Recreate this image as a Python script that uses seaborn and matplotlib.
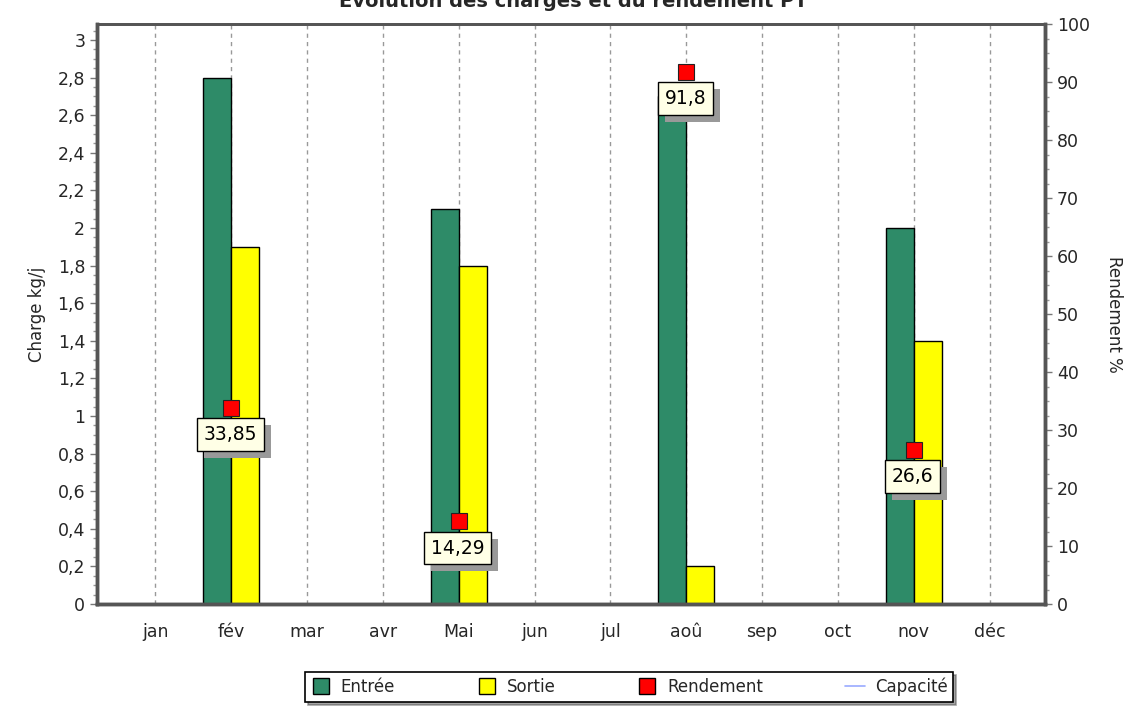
import numpy as np
import pandas as pd
import matplotlib
matplotlib.use("Agg")
import matplotlib.pyplot as plt
import matplotlib.patheffects as pe
import seaborn as sns
from matplotlib.ticker import MultipleLocator, FuncFormatter
from matplotlib.lines import Line2D

months = ["jan", "fév", "mar", "avr", "Mai", "jun", "jul", "aoû", "sep", "oct", "nov", "déc"]
entree = [np.nan, 2.8, np.nan, np.nan, 2.1, np.nan, np.nan, 2.7, np.nan, np.nan, 2.0, np.nan]
sortie = [np.nan, 1.9, np.nan, np.nan, 1.8, np.nan, np.nan, 0.2, np.nan, np.nan, 1.4, np.nan]
rendement = [np.nan, 33.85, np.nan, np.nan, 14.29, np.nan, np.nan, 91.8, np.nan, np.nan, 26.6, np.nan]
capacite = [np.nan] * 12

green = "#2E8B68"
yellow = "#FFFF00"
red = "#FF0000"

sns.set_style("white")
plt.rcParams["font.family"] = ["DejaVu Sans"]

df = pd.DataFrame({"mois": months * 2,
                   "serie": ["Entrée"] * 12 + ["Sortie"] * 12,
                   "charge": entree + sortie})

fig = plt.figure(figsize=(11.4, 7.06), dpi=100)
ax = fig.add_axes([97 / 1140, 102 / 706, 948 / 1140, 580 / 706])

sns.barplot(data=df, x="mois", y="charge", hue="serie", order=months,
            palette={"Entrée": green, "Sortie": yellow}, width=0.74,
            edgecolor="black", linewidth=1, saturation=1, ax=ax, legend=False)

ax.set_xlim(-0.77, 11.73)
ax.set_ylim(0, 3.085)
ax.set_xlabel("")
ax.set_ylabel("Charge kg/j", fontsize=12, labelpad=8)
ax.yaxis.set_major_locator(MultipleLocator(0.2))
ax.yaxis.set_minor_locator(MultipleLocator(0.05))
ax.xaxis.set_minor_locator(MultipleLocator(0.25))
ax.yaxis.set_major_formatter(FuncFormatter(lambda v, p: f"{v:.1f}".rstrip("0").rstrip(".").replace(".", ",")))
ax.tick_params(axis="y", which="major", direction="out", length=5, width=1, color="#777777", labelsize=12.5)
ax.tick_params(axis="y", which="minor", direction="out", length=3, width=1, color="#999999")
ax.tick_params(axis="x", which="major", direction="out", length=6, width=1, color="#777777", labelsize=12.5, pad=8)
ax.tick_params(axis="x", which="minor", direction="out", length=3, width=1, color="#999999")
ax.grid(axis="x", linestyle=(0, (3, 3)), color="#999999", linewidth=1)
ax.set_axisbelow(True)

ax2 = ax.twinx()
ax2.set_ylim(0, 100)
ax2.yaxis.set_major_locator(MultipleLocator(10))
ax2.yaxis.set_minor_locator(MultipleLocator(2.5))
ax2.tick_params(axis="y", which="major", direction="out", length=5, width=1, color="#777777", labelsize=12.5)
ax2.tick_params(axis="y", which="minor", direction="out", length=3, width=1, color="#999999")
ax2.set_ylabel("Rendement %", fontsize=12, rotation=-90, labelpad=24)

idx = np.arange(len(months))
ax2.plot(idx, capacite, color="#99AAFF", linewidth=1.2)
ax2.plot(idx, rendement, linestyle="none", marker="s", markersize=12,
         markerfacecolor=red, markeredgecolor="#222222", markeredgewidth=0.8, zorder=5)

for i, r in zip(idx, rendement):
    if np.isnan(r):
        continue
    lab = f"{r:g}".replace(".", ",")
    t = ax2.annotate(lab, (i, r), xytext=(-1, -27), textcoords="offset pixels",
                     ha="center", va="center", fontsize=13.5, color="black", zorder=6,
                     bbox=dict(boxstyle="square,pad=0.36", fc="#FFFFE6", ec="black", lw=1))
    t.get_bbox_patch().set_path_effects([
        pe.SimplePatchShadow(offset=(5, -5), shadow_rgbFace="#999999", alpha=1.0),
        pe.Normal()])

for a in (ax, ax2):
    for s in a.spines.values():
        s.set_color("#555555")
    a.spines["left"].set_linewidth(2.5)
    a.spines["right"].set_linewidth(2.5)
    a.spines["bottom"].set_linewidth(2.5)
    a.spines["top"].set_linewidth(2)

fig.text(573 / 1140, 1 - 7 / 706, "Evolution des charges et du rendement PT",
         ha="center", va="baseline", fontsize=14, fontweight="bold")

handles = [
    Line2D([], [], linestyle="none", marker="s", markersize=11, markerfacecolor=green, markeredgecolor="black"),
    Line2D([], [], linestyle="none", marker="s", markersize=11, markerfacecolor=yellow, markeredgecolor="black"),
    Line2D([], [], linestyle="none", marker="s", markersize=11, markerfacecolor=red, markeredgecolor="black"),
    Line2D([], [], color="#99AAFF", linewidth=1.2),
]
leg = fig.legend(handles, ["Entrée", "Sortie", "Rendement", "Capacité"], ncol=4,
                 loc="lower center", bbox_to_anchor=(629 / 1140, -0.006), frameon=True,
                 fancybox=False, shadow=True, edgecolor="black", fontsize=12,
                 columnspacing=4.9, handlelength=1.2, handletextpad=0.6, borderpad=0.35)
leg.get_frame().set_linewidth(1.2)

fig.savefig("out.png", dpi=100)
